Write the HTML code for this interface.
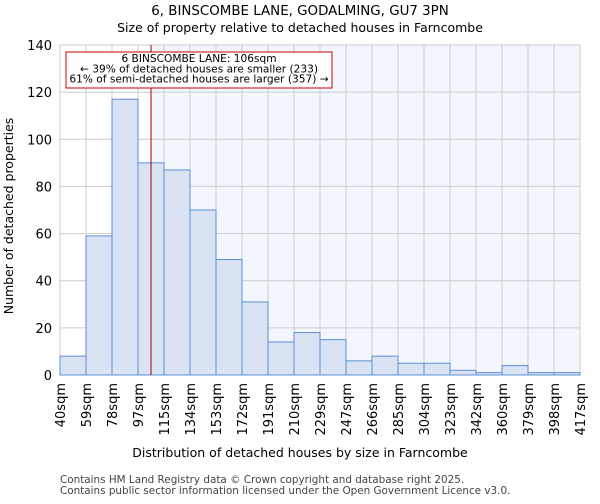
<!DOCTYPE html>
<html><head><meta charset="utf-8"><style>
body{margin:0;background:#fff;font-family:"DejaVu Sans","Liberation Sans",sans-serif;}
</style></head><body>
<svg width="600" height="500" xmlns="http://www.w3.org/2000/svg" font-family="DejaVu Sans, Liberation Sans, sans-serif">
<text x="300" y="15" text-anchor="middle" font-size="13.4">6, BINSCOMBE LANE, GODALMING, GU7 3PN</text>
<text x="300" y="32" text-anchor="middle" font-size="12.5">Size of property relative to detached houses in Farncombe</text>
<g id="plot"></g>
<text x="300" y="457" text-anchor="middle" font-size="12.5">Distribution of detached houses by size in Farncombe</text>
<text transform="translate(13,216) rotate(-90)" text-anchor="middle" font-size="12.5">Number of detached properties</text>
<text x="60" y="483" font-size="10.4" fill="#444">Contains HM Land Registry data © Crown copyright and database right 2025.</text>
<text x="60" y="494" font-size="10.4" fill="#444">Contains public sector information licensed under the Open Government Licence v3.0.</text>
</svg>
<script>
const categories=["40sqm","59sqm","78sqm","97sqm","115sqm","134sqm","153sqm","172sqm","191sqm","210sqm","229sqm","247sqm","266sqm","285sqm","304sqm","323sqm","342sqm","360sqm","379sqm","398sqm","417sqm"];
const edges=[40,59,78,97,115,134,153,172,191,210,229,247,266,285,304,323,342,360,379,398,417];
const counts=[8,59,117,90,87,70,49,31,14,18,15,6,8,5,5,2,1,4,1,1];
const yTicks=[0,20,40,60,80,100,120,140];
const markerValue=106;
const NS="http://www.w3.org/2000/svg";
const L=60,R=580,T=45,B=375,YMAX=140;
const nb=counts.length;
function xi(i){return L+(R-L)*i/nb;}
function xv(v){for(let i=0;i<nb;i++){if(v<=edges[i+1])return xi(i)+(v-edges[i])/(edges[i+1]-edges[i])*(xi(i+1)-xi(i));}return R;}
function y(v){return B-(B-T)*v/YMAX;}
const g=document.getElementById('plot');
function mk(t,a,p){const e=document.createElementNS(NS,t);for(const k in a)e.setAttribute(k,a[k]);(p||g).appendChild(e);return e;}
const mx=xv(markerValue);
let bg=mk('rect',{x:mx,y:T,width:R-mx,height:B-T,fill:'#f3f6fd'});


for(let i=0;i<=nb;i++){let l=mk('line',{x1:xi(i),x2:xi(i),y1:T,y2:B,stroke:'#cccccc','stroke-width':1});

}
yTicks.forEach(t=>{let l=mk('line',{x1:L,x2:R,y1:y(t),y2:y(t),stroke:'#cccccc','stroke-width':1});


let tx=mk('text',{x:L-8,y:y(t)+5,'text-anchor':'end','font-size':13});tx.textContent=t;

});
counts.forEach((c,i)=>{let r=mk('rect',{x:xi(i),y:y(c),width:xi(i+1)-xi(i),height:B-y(c),fill:'#dae3f3',stroke:'#5b8fd6','stroke-width':1});

});
categories.forEach((c,i)=>{let tx=mk('text',{transform:`translate(${xi(i)+5},383) rotate(-90)`,'text-anchor':'end','font-size':13});tx.textContent=c;

});
let ml=mk('line',{x1:mx,x2:mx,y1:T,y2:B,stroke:'#a00000','stroke-width':1});


let box=mk('rect',{x:66,y:52,width:266,height:36,fill:'#fff',stroke:'#cc0000','stroke-width':1});


["6 BINSCOMBE LANE: 106sqm","← 39% of detached houses are smaller (233)","61% of semi-detached houses are larger (357) →"].forEach((s,k)=>{let tx=mk('text',{x:199,y:62+k*10.3,'text-anchor':'middle','font-size':10.6});tx.textContent=s;

});
</script>
</body></html>
